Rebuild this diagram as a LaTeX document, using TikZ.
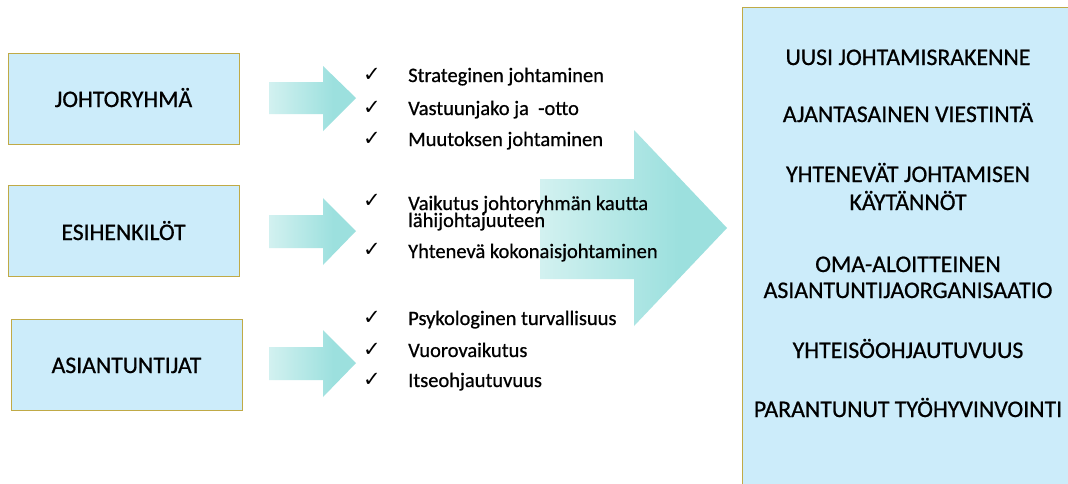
\documentclass[tikz,border=0pt]{standalone}
\usepackage{fontspec}
\setmainfont{Carlito}[RawFeature={embolden=0.7}]
\newfontfamily\symfont{DejaVu Sans}
\definecolor{boxfill}{RGB}{204,236,250}
\definecolor{boxline}{RGB}{192,170,70}
\definecolor{arrteal}{RGB}{156,224,222}
\definecolor{arrlight}{RGB}{178,232,230}
\pgfdeclarehorizontalshading{arrshade}{100bp}{color(0bp)=(white!92!arrteal); color(62bp)=(arrteal); color(85bp)=(arrteal); color(100bp)=(arrlight)}
\tikzset{
  srcbox/.style={draw=boxline, line width=1pt, fill=boxfill, minimum width=231pt, minimum height=91pt, inner sep=0pt},
  srctext/.style={anchor=base, font=\fontsize{23.7}{28}\selectfont, inner sep=0pt},
  resbox/.style={draw=boxline, line width=1pt, fill=boxfill, inner sep=0pt},
  restext/.style={anchor=base, font=\fontsize{23.8}{28}\selectfont, inner sep=0pt},
  bullet/.style={anchor=base west, font=\fontsize{20.5}{24}\selectfont, inner sep=0pt},
  chk/.style={anchor=base west, font=\symfont\fontsize{21}{24}\selectfont, inner sep=0pt},
  arrfill/.style={shading=arrshade, draw=none}
}
\begin{document}
\begin{tikzpicture}[x=1pt,y=-1pt]
\useasboundingbox (0,0) rectangle (1068,483);
\clip (0,0) rectangle (1068,483);
\fill[white] (0,0) rectangle (1068,483);
% big arrow
\shade[arrfill] (540,179) -- (634,179) -- (634,130) -- (727,228) -- (634,326) -- (634,279) -- (540,279) -- cycle;
% small arrows
\shade[arrfill] (269,82) -- (323,82) -- (323,66) -- (356,98) -- (323,131) -- (323,114) -- (269,114) -- cycle;
\shade[arrfill] (269,215) -- (323,215) -- (323,198) -- (356,231) -- (323,265) -- (323,248) -- (269,248) -- cycle;
\shade[arrfill] (269,347) -- (323,347) -- (323,330) -- (356,363) -- (323,397) -- (323,380) -- (269,380) -- cycle;
% source boxes
\node[srcbox] (b1) at (123.5,99) {};
\node[srctext] (t1) at (123.5,107) {JOHTORYHMÄ};
\node[srcbox] (b2) at (123.5,231) {};
\node[srctext] (t2) at (123.5,240) {ESIHENKILÖT};
\node[srcbox] (b3) at (126.5,365) {};
\node[srctext] (t3) at (126.5,373) {ASIANTUNTIJAT};
% bullets group 1
\node[chk] (c11) at (363,81) {✓};
\node[bullet] (l11) at (408,82) {Strateginen johtaminen};
\node[chk] (c12) at (363,114) {✓};
\node[bullet] (l12) at (408,115) {Vastuunjako ja \ -otto};
\node[chk] (c13) at (363,145) {✓};
\node[bullet] (l13) at (408,146) {Muutoksen johtaminen};
% group 2
\node[chk] (c21) at (363,207) {✓};
\node[bullet] (l21) at (408,210) {Vaikutus johtoryhmän kautta};
\node[bullet] (l21b) at (408,227) {lähijohtajuuteen};
\node[chk] (c22) at (363,256) {✓};
\node[bullet] (l22) at (408,258) {Yhtenevä kokonaisjohtaminen};
% group 3
\node[chk] (c31) at (363,324) {✓};
\node[bullet] (l31) at (408,325) {Psykologinen turvallisuus};
\node[chk] (c32) at (363,356) {✓};
\node[bullet] (l32) at (408,357) {Vuorovaikutus};
\node[chk] (c33) at (363,386) {✓};
\node[bullet] (l33) at (408,387) {Itseohjautuvuus};
% result box
\node[resbox, anchor=north west, minimum width=340pt, minimum height=490pt] (res) at (742,7) {};
\node[restext] (r1) at (908,65) {UUSI JOHTAMISRAKENNE};
\node[restext] (r2) at (908,122) {AJANTASAINEN VIESTINTÄ};
\node[restext] (r3) at (908,182) {YHTENEVÄT JOHTAMISEN};
\node[restext] (r3b) at (908,210) {KÄYTÄNNÖT};
\node[restext] (r4) at (908,272) {OMA-ALOITTEINEN};
\node[restext] (r4b) at (908,298) {ASIANTUNTIJAORGANISAATIO};
\node[restext] (r5) at (908,358) {YHTEISÖOHJAUTUVUUS};
\node[restext] (r6) at (908,417) {PARANTUNUT TYÖHYVINVOINTI};
\end{tikzpicture}
\end{document}
